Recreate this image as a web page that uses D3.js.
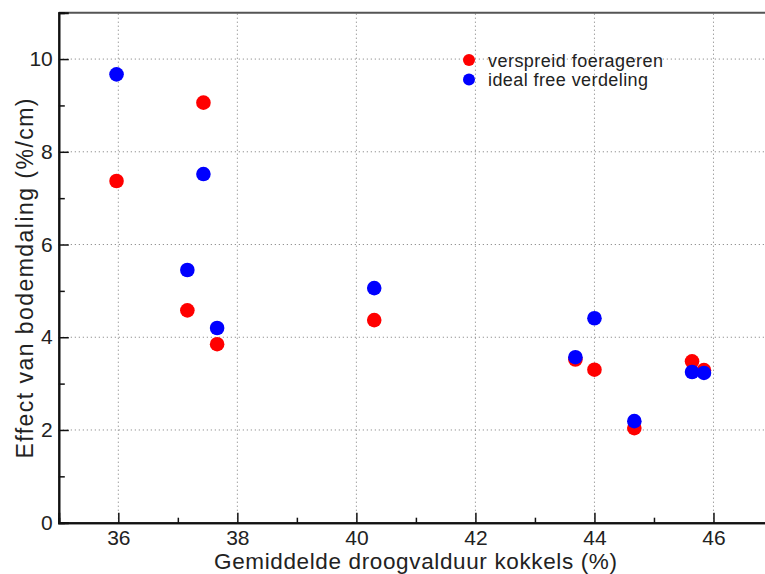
<!DOCTYPE html>
<html>
<head>
<meta charset="utf-8">
<script src="https://cdn.jsdelivr.net/npm/d3@7"></script>
<style>
  html, body { margin: 0; padding: 0; background: #fff; }
  svg { display: block; font-family: "Liberation Sans", Arial, Helvetica, sans-serif; }
</style>
</head>
<body>
<svg id="chart" width="765" height="574"></svg>
<script>
// Drying time of cockles (%) per site
const droogvalduur = [35.97, 37.43, 37.16, 37.66, 40.30, 43.68, 44.00, 44.67, 45.64, 45.84];
// Effect of subsidence (%/cm) under dispersed foraging
const verspreid = [7.37, 9.06, 4.58, 3.85, 4.37, 3.52, 3.30, 2.04, 3.48, 3.29];
// Effect of subsidence (%/cm) under ideal free distribution
const idealFree = [9.67, 7.52, 5.45, 4.20, 5.06, 3.57, 4.41, 2.19, 3.25, 3.23];

const xTicks = [36, 38, 40, 42, 44, 46];
const xMinor = [35, 37, 39, 41, 43, 45, 47];
const yTicks = [0, 2, 4, 6, 8, 10];
const yMinor = [1, 3, 5, 7, 9, 11];

const seriesNames = ["verspreid foerageren", "ideal free verdeling"];
const seriesColors = ["#ff0000", "#0000ff"];

const svg = d3.select("#chart");
const plotLeft = 58.8, plotTop = 12.7, plotBottom = 522.7, plotRight = 773;

const x = d3.scaleLinear().domain([35, 47]).range([plotLeft, plotRight]);
const y = d3.scaleLinear().domain([0, 11]).range([plotBottom, plotTop]);

// dotted grid at major ticks
const grid = svg.append("g");
grid.selectAll("line.gx").data(xTicks).join("line")
  .attr("x1", d => x(d)).attr("x2", d => x(d))
  .attr("y1", plotBottom).attr("y2", plotTop)
  .attr("stroke", "#777").attr("stroke-width", 1).attr("stroke-dasharray", "1,3");
grid.selectAll("line.gy").data(yTicks.filter(d => d > 0)).join("line")
  .attr("x1", plotLeft).attr("x2", 765)
  .attr("y1", d => y(d)).attr("y2", d => y(d))
  .attr("stroke", "#777").attr("stroke-width", 1).attr("stroke-dasharray", "1,3");

// top frame line
svg.append("line").attr("x1", plotLeft).attr("x2", 765).attr("y1", plotTop).attr("y2", plotTop)
  .attr("stroke", "#555").attr("stroke-width", 2);

// axes with inward ticks
const xAxis = svg.append("g").attr("transform", `translate(0,${plotBottom})`)
  .call(d3.axisBottom(x).tickValues(xTicks).tickSize(-10).tickPadding(7).tickFormat(d3.format("d")));
const xAxisMinor = svg.append("g").attr("transform", `translate(0,${plotBottom})`)
  .call(d3.axisBottom(x).tickValues(xMinor).tickSize(-5).tickFormat(""));
const yAxis = svg.append("g").attr("transform", `translate(${plotLeft},0)`)
  .call(d3.axisLeft(y).tickValues(yTicks).tickSize(-10).tickPadding(6).tickFormat(d3.format("d")));
const yAxisMinor = svg.append("g").attr("transform", `translate(${plotLeft},0)`)
  .call(d3.axisLeft(y).tickValues(yMinor).tickSize(-6).tickFormat(""));

[xAxis, xAxisMinor, yAxis, yAxisMinor].forEach(g => {
  g.select(".domain").attr("stroke", "#111").attr("stroke-width", 2);
  g.selectAll(".tick line").attr("stroke", "#111").attr("stroke-width", 1.5);
  g.selectAll(".tick text").attr("fill", "#222").style("font-size", "21px")
    .style("font-family", "'Liberation Sans', Arial, sans-serif");
});

// axis titles
svg.append("text").attr("x", 415.5).attr("y", 569).attr("text-anchor", "middle")
  .attr("fill", "#222").style("font-size", "22.5px")
  .attr("textLength", 403).attr("lengthAdjust", "spacing")
  .text("Gemiddelde droogvalduur kokkels (%)");
svg.append("text").attr("transform", "translate(33,278.5) rotate(-90)")
  .attr("text-anchor", "middle").attr("fill", "#222").style("font-size", "23px")
  .attr("textLength", 360).attr("lengthAdjust", "spacing")
  .text("Effect van bodemdaling (%/cm)");

// points: red series first, blue drawn on top
const series = [verspreid, idealFree];
series.forEach((vals, i) => {
  svg.append("g").selectAll("circle").data(vals).join("circle")
    .attr("cx", (d, j) => x(droogvalduur[j]))
    .attr("cy", d => y(d))
    .attr("r", 7.3)
    .attr("fill", seriesColors[i]);
});

// legend
const legendWidths = [175, 160];
const legend = svg.append("g").attr("transform", "translate(469,60)");
seriesNames.forEach((name, i) => {
  const row = legend.append("g").attr("transform", `translate(0,${i * 19.5})`);
  row.append("circle").attr("r", 6).attr("fill", seriesColors[i]);
  row.append("text").attr("x", 19).attr("y", 6.5).attr("fill", "#222")
    .style("font-size", "18px")
    .attr("textLength", legendWidths[i]).attr("lengthAdjust", "spacing")
    .text(name);
});
</script>
</body>
</html>
